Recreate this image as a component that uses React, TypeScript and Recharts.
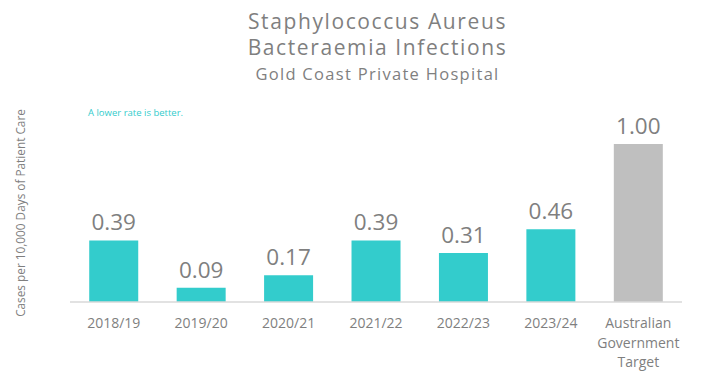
import React from "react";
import { BarChart, Bar, XAxis, YAxis, Cell, LabelList } from "recharts";

const categories = ["2018/19", "2019/20", "2020/21", "2021/22", "2022/23", "2023/24", "Australian Government Target"];
const rates = [0.39, 0.09, 0.17, 0.39, 0.31, 0.46, 1.0];
const valueLabels = ["0.39", "0.09", "0.17", "0.39", "0.31", "0.46", "1.00"];
const colors = ["#33CCCC", "#33CCCC", "#33CCCC", "#33CCCC", "#33CCCC", "#33CCCC", "#BFBFBF"];

const data = categories.map((c, i) => ({ name: c, value: rates[i], label: valueLabels[i] }));

const FONT = "'Open Sans', 'Noto Sans', sans-serif";

const Tick = (props: any) => {
  const { x, y, payload } = props;
  const words: string[] = payload.value.includes(" ") ? payload.value.split(" ") : [payload.value];
  return (
    <g transform={`translate(${x},${y})`}>
      {words.map((w, i) => (
        <text key={i} x={0} y={18 + i * 19.5} textAnchor="middle" fill="#7F7F7F" fontSize={14} fontFamily={FONT}>
          {w}
        </text>
      ))}
    </g>
  );
};

const titleStyle = (top: number, size: number, spacing: number): React.CSSProperties => ({
  position: "absolute",
  left: 0,
  top,
  width: 755,
  textAlign: "center",
  fontFamily: FONT,
  color: "#7F7F7F",
  fontSize: size,
  lineHeight: `${size}px`,
  letterSpacing: spacing,
  whiteSpace: "nowrap",
});

export default function App() {
  return (
    <div style={{ position: "absolute", left: 0, top: 0, width: 703, height: 378, background: "#fff" }}>
      <div style={titleStyle(11, 21, 1.6)}>Staphylococcus Aureus</div>
      <div style={titleStyle(37, 21, 1.6)}>Bacteraemia Infections</div>
      <div style={titleStyle(66, 16.5, 1.3)}>Gold Coast Private Hospital</div>
      <div style={{ position: "absolute", left: 88, top: 106, fontFamily: FONT, fontSize: 9.5, color: "#33CCCC" }}>A lower rate is better.</div>
      <div
        style={{
          position: "absolute",
          left: 20,
          top: 213,
          transform: "translate(-50%, -50%) rotate(-90deg)",
          whiteSpace: "nowrap",
          fontFamily: FONT,
          fontSize: 11.8,
          color: "#7F7F7F",
        }}
      >
        Cases per 10,000 Days of Patient Care
      </div>
      <BarChart width={703} height={378} data={data} margin={{ top: 144, right: 21, bottom: 0, left: 70 }} barCategoryGap="22%">
        <YAxis hide domain={[0, 1]} width={0} />
        <XAxis dataKey="name" tick={<Tick />} tickLine={false} axisLine={{ stroke: "#D9D9D9", strokeWidth: 1.5 }} interval={0} height={76} />
        <Bar dataKey="value" isAnimationActive={false}>
          {data.map((d, i) => (
            <Cell key={i} fill={colors[i]} />
          ))}
          <LabelList dataKey="label" position="top" offset={10} fill="#7F7F7F" fontSize={22.5} fontFamily={FONT} />
        </Bar>
      </BarChart>
    </div>
  );
}
